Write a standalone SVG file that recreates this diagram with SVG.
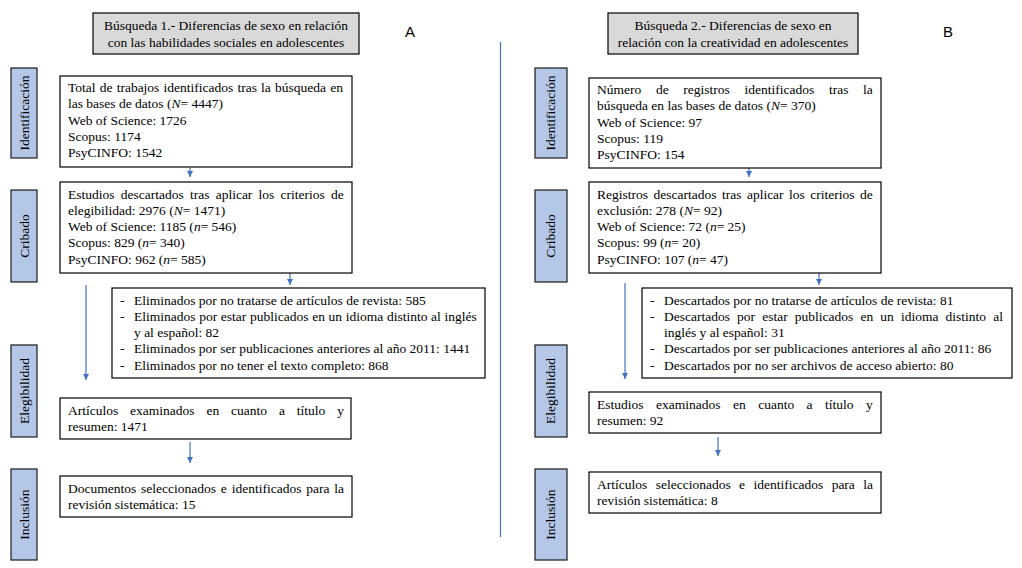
<svg xmlns="http://www.w3.org/2000/svg" width="1022" height="568" viewBox="0 0 1022 568">
<style>
text{font-family:"Liberation Serif","Times New Roman",serif;font-size:13.5px;fill:#000}
.box{fill:#fff;stroke:#000;stroke-width:1.2}
.title{fill:#d9d9d9;stroke:#000;stroke-width:1.2}
.lab{fill:#b4c7e7;stroke:#1a1a1a;stroke-width:1.2}
.ctr{text-anchor:middle}
.i{font-style:italic}
.big{font-family:"Liberation Sans",Arial,sans-serif;font-size:15px}
.con{stroke:#4472c4;stroke-width:1.2;fill:none}
</style>
<defs>
<marker id="ah" viewBox="0 0 8 8" refX="8" refY="4" markerWidth="6" markerHeight="6" markerUnits="userSpaceOnUse" orient="auto">
<path d="M0,0 L8,4 L0,8 Z" fill="#4472c4"/>
</marker>
</defs>

<g id="connectors">
<line class="con" x1="500.5" y1="42" x2="500.5" y2="537"/>
<line class="con" x1="190" y1="168" x2="190" y2="177" marker-end="url(#ah)"/>
<line class="con" x1="290" y1="273" x2="290" y2="285" marker-end="url(#ah)"/>
<line class="con" x1="86" y1="285" x2="86" y2="380" marker-end="url(#ah)"/>
<line class="con" x1="190" y1="442" x2="190" y2="463" marker-end="url(#ah)"/>
<line class="con" x1="749" y1="168" x2="749" y2="177" marker-end="url(#ah)"/>
<line class="con" x1="819" y1="273" x2="819" y2="285" marker-end="url(#ah)"/>
<line class="con" x1="625" y1="283" x2="625" y2="379" marker-end="url(#ah)"/>
<line class="con" x1="718" y1="437" x2="718" y2="456" marker-end="url(#ah)"/>
</g>

<!-- LEFT PANEL -->
<g id="titleA">
<rect class="title" x="93" y="13" width="266" height="41"/>
<text class="ctr" x="226" y="30">Búsqueda 1.- Diferencias de sexo en relación</text>
<text class="ctr" x="226" y="47">con las habilidades sociales en adolescentes</text>
</g>
<g id="labelA"><text class="big" x="405" y="37">A</text></g>

<g id="labA1"><rect class="lab" x="11" y="68" width="26" height="90"/><text class="ctr" transform="translate(28.5,113) rotate(-90)">Identificación</text></g>
<g id="labA2"><rect class="lab" x="11" y="190" width="26" height="92"/><text class="ctr" transform="translate(28.5,236) rotate(-90)">Cribado</text></g>
<g id="labA3"><rect class="lab" x="11" y="345" width="26" height="92"/><text class="ctr" transform="translate(28.5,391) rotate(-90)">Elegibilidad</text></g>
<g id="labA4"><rect class="lab" x="11" y="469" width="26" height="91"/><text class="ctr" transform="translate(28.5,514.5) rotate(-90)">Inclusión</text></g>

<g id="boxA1">
<rect class="box" x="60" y="76" width="292" height="91"/>
<text x="68" y="92" word-spacing="0.8">Total de trabajos identificados tras la búsqueda en</text>
<text x="68" y="108.3">las bases de datos (<tspan class="i">N</tspan>= 4447)</text>
<text x="68" y="124.6">Web of Science: 1726</text>
<text x="68" y="140.9">Scopus: 1174</text>
<text x="68" y="157.2">PsyCINFO: 1542</text>
</g>

<g id="boxA2">
<rect class="box" x="60" y="182" width="292" height="91"/>
<text x="68" y="198.5" word-spacing="2.85">Estudios descartados tras aplicar los criterios de</text>
<text x="68" y="214.8">elegibilidad: 2976 (<tspan class="i">N</tspan>= 1471)</text>
<text x="68" y="231.1">Web of Science: 1185 (<tspan class="i">n</tspan>= 546)</text>
<text x="68" y="247.4">Scopus: 829 (<tspan class="i">n</tspan>= 340)</text>
<text x="68" y="263.7">PsyCINFO: 962 (<tspan class="i">n</tspan>= 585)</text>
</g>

<g id="boxA3">
<rect class="box" x="112" y="288" width="373" height="90"/>
<text x="120" y="304.5">-</text><text x="134" y="304.5">Eliminados por no tratarse de artículos de revista: 585</text>
<text x="120" y="320.8">-</text><text x="134" y="320.8" word-spacing="0.3">Eliminados por estar publicados en un idioma distinto al inglés</text>
<text x="134" y="337.1">y al español: 82</text>
<text x="120" y="353.4">-</text><text x="134" y="353.4">Eliminados por ser publicaciones anteriores al año 2011: 1441</text>
<text x="120" y="369.7">-</text><text x="134" y="369.7">Eliminados por no tener el texto completo: 868</text>
</g>

<g id="boxA4">
<rect class="box" x="60" y="398" width="291" height="41"/>
<text x="68" y="415" word-spacing="8.5">Artículos examinados en cuanto a título y</text>
<text x="68" y="431.3">resumen: 1471</text>
</g>

<g id="boxA5">
<rect class="box" x="60" y="476" width="292" height="41"/>
<text x="68" y="492.5" word-spacing="1.45">Documentos seleccionados e identificados para la</text>
<text x="68" y="508.8">revisión sistemática: 15</text>
</g>

<!-- RIGHT PANEL -->
<g id="titleB">
<rect class="title" x="608" y="13" width="250" height="41"/>
<text class="ctr" x="733" y="30">Búsqueda 2.- Diferencias de sexo en</text>
<text class="ctr" x="733" y="47">relación con la creatividad en adolescentes</text>
</g>
<g id="labelB"><text class="big" x="943" y="37">B</text></g>

<g id="labB1"><rect class="lab" x="535" y="68" width="32" height="90"/><text class="ctr" transform="translate(555,113) rotate(-90)">Identificación</text></g>
<g id="labB2"><rect class="lab" x="535" y="190" width="32" height="92"/><text class="ctr" transform="translate(555,236) rotate(-90)">Cribado</text></g>
<g id="labB3"><rect class="lab" x="535" y="345" width="32" height="92"/><text class="ctr" transform="translate(555,391) rotate(-90)">Elegibilidad</text></g>
<g id="labB4"><rect class="lab" x="535" y="469" width="32" height="91"/><text class="ctr" transform="translate(555,514.5) rotate(-90)">Inclusión</text></g>

<g id="boxB1">
<rect class="box" x="589" y="78" width="292" height="90"/>
<text x="597" y="94" word-spacing="11.3">Número de registros identificados tras la</text>
<text x="597" y="110.3">búsqueda en las bases de datos (<tspan class="i">N</tspan>= 370)</text>
<text x="597" y="126.6">Web of Science: 97</text>
<text x="597" y="142.9">Scopus: 119</text>
<text x="597" y="159.2">PsyCINFO: 154</text>
</g>

<g id="boxB2">
<rect class="box" x="589" y="182" width="292" height="91"/>
<text x="597" y="198.5" word-spacing="2.1">Registros descartados tras aplicar los criterios de</text>
<text x="597" y="214.8">exclusión: 278 (<tspan class="i">N</tspan>= 92)</text>
<text x="597" y="231.1">Web of Science: 72 (<tspan class="i">n</tspan>= 25)</text>
<text x="597" y="247.4">Scopus: 99 (<tspan class="i">n</tspan>= 20)</text>
<text x="597" y="263.7">PsyCINFO: 107 (<tspan class="i">n</tspan>= 47)</text>
</g>

<g id="boxB3">
<rect class="box" x="642" y="288" width="370" height="90"/>
<text x="650" y="304.5">-</text><text x="664" y="304.5">Descartados por no tratarse de artículos de revista: 81</text>
<text x="650" y="320.8">-</text><text x="664" y="320.8" word-spacing="3.75">Descartados por estar publicados en un idioma distinto al</text>
<text x="664" y="337.1">inglés y al español: 31</text>
<text x="650" y="353.4">-</text><text x="664" y="353.4">Descartados por ser publicaciones anteriores al año 2011: 86</text>
<text x="650" y="369.7">-</text><text x="664" y="369.7">Descartados por no ser archivos de acceso abierto: 80</text>
</g>

<g id="boxB4">
<rect class="box" x="589" y="392" width="292" height="41"/>
<text x="597" y="409" word-spacing="9.1">Estudios examinados en cuanto a título y</text>
<text x="597" y="425.3">resumen: 92</text>
</g>

<g id="boxB5">
<rect class="box" x="589" y="472" width="292" height="41"/>
<text x="597" y="488.5" word-spacing="5.05">Artículos seleccionados e identificados para la</text>
<text x="597" y="504.8">revisión sistemática: 8</text>
</g>
</svg>
